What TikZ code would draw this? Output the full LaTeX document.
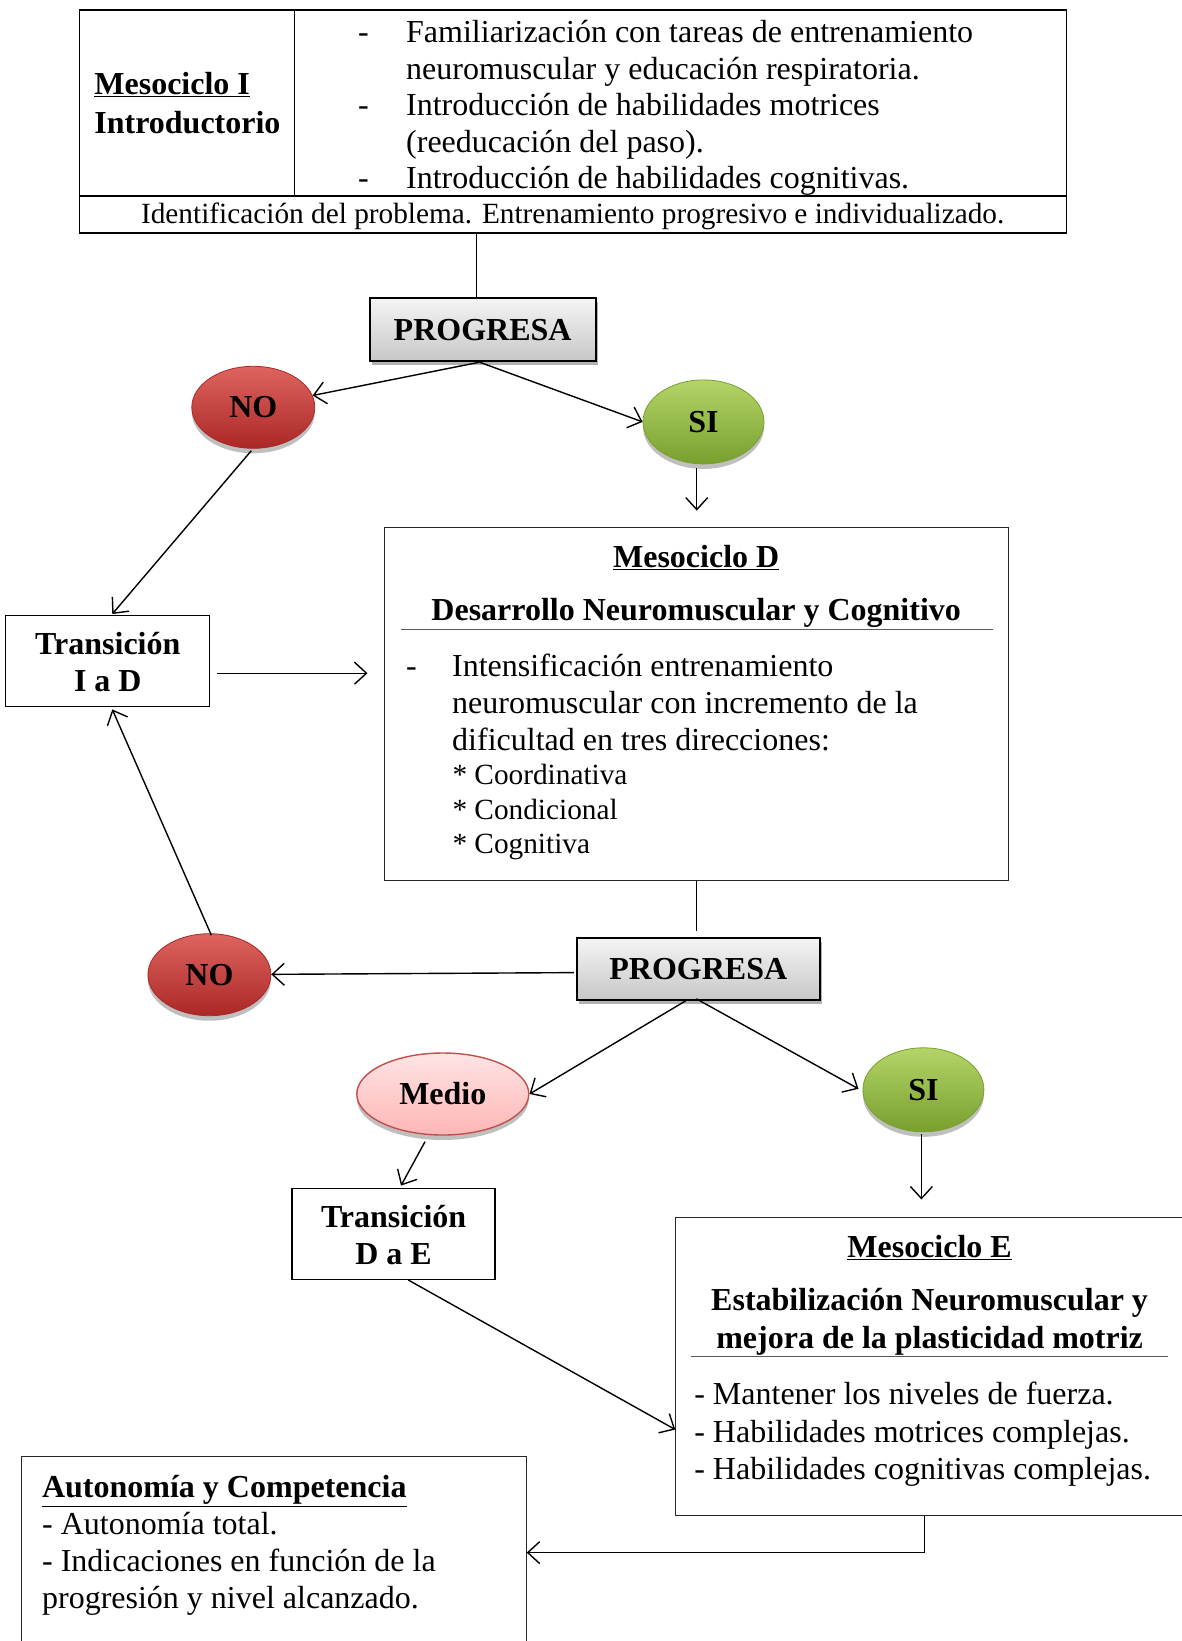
\documentclass[tikz,border=0pt]{standalone}
\usepackage{fontspec}
\setmainfont{Liberation Serif}
\usetikzlibrary{arrows.meta,shapes.geometric,shadows,calc}

\definecolor{nored}{RGB}{205,62,58}
\definecolor{noredtop}{RGB}{222,100,95}
\definecolor{noreddark}{RGB}{170,40,38}
\definecolor{sigreen}{RGB}{158,196,76}
\definecolor{sigreentop}{RGB}{180,212,105}
\definecolor{sigreendark}{RGB}{120,160,45}
\definecolor{mediotop}{RGB}{255,228,228}
\definecolor{mediobot}{RGB}{255,182,182}
\definecolor{medioline}{RGB}{192,80,77}
\definecolor{rulegray}{RGB}{90,90,90}

\tikzset{
  txt/.style={inner sep=0pt, font=\fontsize{32}{36.6}\selectfont},
  smalltxt/.style={inner sep=0pt, font=\fontsize{29.3}{34.6}\selectfont},
  btxt/.style={txt, font=\fontsize{32}{36.6}\selectfont\bfseries},
  frame/.style={draw=black, line width=1.4pt, inner sep=0pt},
  thinframe/.style={draw=black!85, line width=1.1pt, inner sep=0pt},
  progbox/.style={draw=black, line width=2pt, inner sep=0pt,
    top color=black!4, bottom color=black!22,
    minimum height=62pt,
    drop shadow={shadow xshift=2pt, shadow yshift=-4pt, opacity=0.3, fill=black},
    font=\fontsize{32}{36.6}\selectfont\bfseries},
  decision/.style={ellipse, inner sep=0pt, line width=0.8pt,
    drop shadow={shadow xshift=0pt, shadow yshift=-5pt, opacity=0.25, fill=black},
    font=\fontsize{32}{36.6}\selectfont\bfseries},
  nonode/.style={decision, draw=noreddark, top color=noredtop, middle color=nored, bottom color=noreddark,
    minimum width=123pt, minimum height=82pt},
  sinode/.style={decision, draw=sigreendark, top color=sigreentop, middle color=sigreen, bottom color=sigreendark,
    minimum width=121pt, minimum height=84pt},
  medionode/.style={decision, draw=medioline, line width=1.4pt, top color=mediotop, bottom color=mediobot,
    minimum width=172pt, minimum height=82pt},
  conn/.style={draw=black, line width=1.4pt},
  arr/.style={conn, -{Straight Barb[length=12pt,width=22pt,line width=1.4pt]}},
  hrule/.style={draw=rulegray, line width=1.2pt},
}

\begin{document}
\begin{tikzpicture}[x=1pt,y=-1pt]
\useasboundingbox (0,0) rectangle (1182,1641);

% ---------- Mesociclo I ----------
\node[frame, anchor=north west, minimum width=987pt, minimum height=223pt] (topbox) at (78.5,9.4) {};
\draw[conn] (78.5,195.8) -- (1065.7,195.8);
\draw[conn] (294.2,9.4) -- (294.2,195.8);
\node[btxt, anchor=base west] (m1title) at (94.2,94.5) {\underline{Mesociclo I}};
\node[btxt, anchor=base west] (m1sub) at (94.2,133.5) {Introductorio};
\node[txt, anchor=base west] (m1list) at (358,42.5) {%
  \begin{tabular}[t]{@{}p{48pt}@{}l@{}}
  - & Familiarización con tareas de entrenamiento\\
    & neuromuscular y educación respiratoria.\\
  - & Introducción de habilidades motrices\\
    & (reeducación del paso).\\
  - & Introducción de habilidades cognitivas.
  \end{tabular}};
\node[smalltxt, anchor=base] (m1foot) at (572.7,223.5)
  {Identificación del problema. Entrenamiento progresivo e individualizado.};

% ---------- first decision ----------
\node[progbox, minimum width=226pt, minimum height=62.8pt] (prog1) at (482.6,329.8) {PROGRESA};
\node[nonode] (no1) at (253.3,407.3) {NO};
\node[sinode] (si1) at (703.5,421.9) {SI};

% ---------- Transición I a D ----------
\node[frame, minimum width=204pt, minimum height=91pt] (tid) at (107.3,661.2) {};
\node[btxt, anchor=base] (tidtext) at (107.8,654.8)
  {\begin{tabular}[t]{@{}c@{}}Transición\\I a D\end{tabular}};

% ---------- Mesociclo D ----------
\node[thinframe, anchor=north west, minimum width=624pt, minimum height=353pt] (mesoD) at (384.2,526.6) {};
\node[btxt, anchor=base] (mdtitle) at (696.2,567) {\underline{Mesociclo D}};
\node[btxt, anchor=base] (mdsub) at (696.2,620.3) {Desarrollo Neuromuscular y Cognitivo};
\draw[hrule] (401,629.2) -- (992.5,629.2);
\node[txt, anchor=base west] (mdlist) at (406,676.8) {%
  \begin{tabular}[t]{@{}p{46pt}@{}l@{}}
  - & Intensificación entrenamiento\\
    & neuromuscular con incremento de la\\
    & dificultad en tres direcciones:
  \end{tabular}};
\node[smalltxt, anchor=base west] (mdsub2) at (452.3,784.7) {%
  \begin{tabular}[t]{@{}l@{}}
  {*} Coordinativa\\
  {*} Condicional\\
  {*} Cognitiva
  \end{tabular}};

% ---------- second decision ----------
\node[progbox, minimum width=243pt, minimum height=61.8pt] (prog2) at (698.3,968.9) {PROGRESA};
\node[nonode] (no2) at (209.4,974.7) {NO};
\node[medionode] (medio) at (442.8,1094) {Medio};
\node[sinode] (si2) at (923.4,1089.8) {SI};

% ---------- Transición D a E ----------
\node[frame, minimum width=203pt, minimum height=91pt] (tde) at (393.6,1233.8) {};
\node[btxt, anchor=base] (tdetext) at (393.6,1227.5)
  {\begin{tabular}[t]{@{}c@{}}Transición\\D a E\end{tabular}};

% ---------- Mesociclo E ----------
\node[thinframe, anchor=north west, minimum width=512pt, minimum height=298.4pt] (mesoE) at (675.3,1216.5) {};
\node[btxt, anchor=base] (metitle) at (929.6,1257.9) {\underline{Mesociclo E}};
\node[btxt, anchor=base, font=\fontsize{32}{37.8}\selectfont\bfseries] (mesub) at (929.6,1310.2)
  {\begin{tabular}[t]{@{}c@{}}Estabilización Neuromuscular y\\mejora de la plasticidad motriz\end{tabular}};
\draw[hrule] (691,1356.8) -- (1168.3,1356.8);
\node[txt, anchor=base west, font=\fontsize{32}{37.7}\selectfont] (melist) at (694.1,1404.4)
  {\begin{tabular}[t]{@{}l@{}}- Mantener los niveles de fuerza.\\- Habilidades motrices complejas.\\- Habilidades cognitivas complejas.\end{tabular}};

% ---------- Autonomía y Competencia ----------
\node[thinframe, anchor=north west, minimum width=504.7pt, minimum height=200pt] (auto) at (20.9,1456.3) {};
\node[btxt, anchor=base west] (autotitle) at (41.9,1497.6) {\underline{Autonomía y Competencia}};
\node[txt, anchor=base west, font=\fontsize{32}{37}\selectfont] (autolist) at (41.9,1534.3)
  {\begin{tabular}[t]{@{}l@{}}- Autonomía total.\\- Indicaciones en función de la\\progresión y nivel alcanzado.\end{tabular}};

% ---------- connectors ----------
\draw[conn] ([xshift=-6.3pt]prog1.north) -- ([xshift=-6.3pt]prog1.north |- topbox.south);
\draw[arr] ([xshift=-3pt]prog1.south) -- (no1);
\draw[arr] ([xshift=-3pt]prog1.south) -- (si1.west);
\draw[arr] ($(si1.south -| mesoD.north)+(0,4)$) -- ($(mesoD.north)+(0,-16)$);
\draw[arr] ($(no1.south)+(-2,2)$) -- ($(tid.north)+(5,-1)$);
\draw[arr] ($(tid.east)+(7,12)$) -- ($(tid.east -| mesoD.west)+(-16.7,12)$);
\draw[conn] (mesoD.south) -- ($(mesoD.south |- prog2.north)+(0,-6)$);
\draw[arr] ($(prog2.west)+(-2,3.7)$) -- (no2);
\draw[arr] ($(no2.north)+(2,2)$) -- ($(tid.south)+(5,2)$);
\draw[arr] ($(prog2.south)+(-12.6,0)$) -- (medio.east);
\draw[arr] ($(prog2.south)+(-2,-2)$) -- ($(si2.west)+(-4,-1)$);
\draw[arr] ($(medio.south)+(-17.8,6)$) -- ($(tde.north)+(7.4,-2)$);
\draw[arr] ($(si2.south)+(-2,2)$) -- ($(si2.south |- mesoE.north)+(-2,-17)$);
\draw[arr] ($(tde.south)+(14.7,0)$) -- ($(mesoE.west)+(0,63.3)$);
\draw[arr] ($(mesoE.south)+(-7.2,0)$) |- ($(auto.north east)+(0,96.3)$);
\end{tikzpicture}
\end{document}
